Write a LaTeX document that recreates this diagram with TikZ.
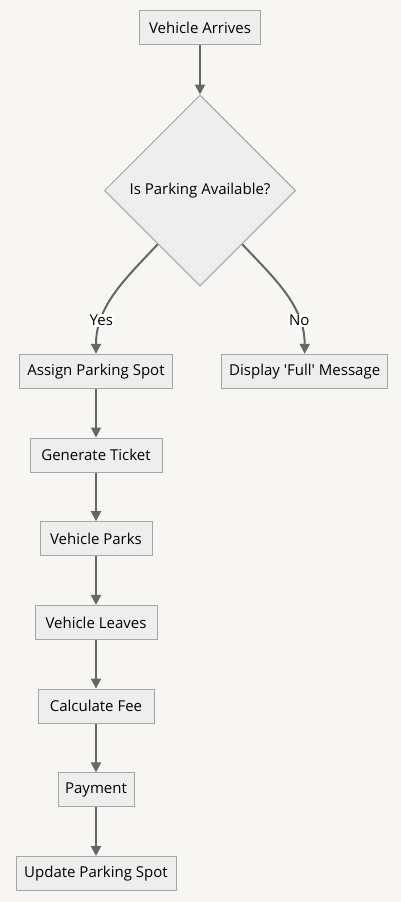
\documentclass[tikz,border=0pt]{standalone}
\usepackage{fontspec}
\setmainfont{Open Sans}
\usetikzlibrary{
    positioning,
    arrows.meta,
    calc,
    shapes.geometric
}
\definecolor{fillNode}{HTML}{EEEEEE}
\definecolor{strokeNode}{HTML}{A5A5A5}
\definecolor{lineGray}{HTML}{666666}
\definecolor{bgPaper}{HTML}{F7F6F3}

\begin{document}
\begin{tikzpicture}[x=1pt, y=-1pt, >={Triangle[length=10pt, width=10pt]},
    box/.style={draw=strokeNode, fill=fillNode, line width=1pt, minimum height=34pt, inner sep=0pt, font=\fontsize{15}{18}\selectfont},
    decision/.style={diamond, draw=strokeNode, fill=fillNode, line width=1pt, minimum width=191pt, minimum height=191pt, inner sep=0pt, font=\fontsize{15}{18}\selectfont},
    flow/.style={->, draw=lineGray, line width=2pt},
    edgeLabel/.style={fill=white, inner sep=1pt, font=\fontsize{15}{18}\selectfont}]
    % 背景
    \fill[bgPaper] (0,0) rectangle (401,902);
    \useasboundingbox (0,0) rectangle (401,902);

    % ノード
    \node[box, minimum width=121pt] (arrives) at (200,27.5) {Vehicle Arrives};
    \node[decision] (available) at (200,190.5) {Is Parking Available?};
    \node[box, minimum width=153pt] (assign) at (96,371.3) {Assign Parking Spot};
    \node[box, minimum width=166pt] (full) at (304.7,371.3) {Display \textquotesingle Full\textquotesingle\ Message};
    \node[box, minimum width=132pt] (ticket) at (96,455) {Generate Ticket};
    \node[box, minimum width=112pt] (parks) at (96,538.7) {Vehicle Parks};
    \node[box, minimum width=122pt] (leaves) at (96,622.4) {Vehicle Leaves};
    \node[box, minimum width=116pt] (fee) at (96,706.1) {Calculate Fee};
    \node[box, minimum width=76pt] (payment) at (96,789.8) {Payment};
    \node[box, minimum width=160pt] (update) at (96,873.5) {Update Parking Spot};

    % 分岐の始点
    \coordinate (yesStart) at ($(available.south west)!0.12!(available.south)$);
    \coordinate (noStart) at ($(available.south east)!0.12!(available.south)$);

    % 矢印
    \draw[flow] (arrives) -- (available);
    \draw[flow] (yesStart) .. controls +(-32,34) and +(0,-48) .. (assign.north)
        node[edgeLabel, pos=0.745] {Yes};
    \draw[flow] (noStart) .. controls +(32,34) and +(0,-48) .. (full.north)
        node[edgeLabel, pos=0.745] {No};
    \draw[flow] (assign) -- (ticket);
    \draw[flow] (ticket) -- (parks);
    \draw[flow] (parks) -- (leaves);
    \draw[flow] (leaves) -- (fee);
    \draw[flow] (fee) -- (payment);
    \draw[flow] (payment) -- (update);
\end{tikzpicture}
\end{document}
